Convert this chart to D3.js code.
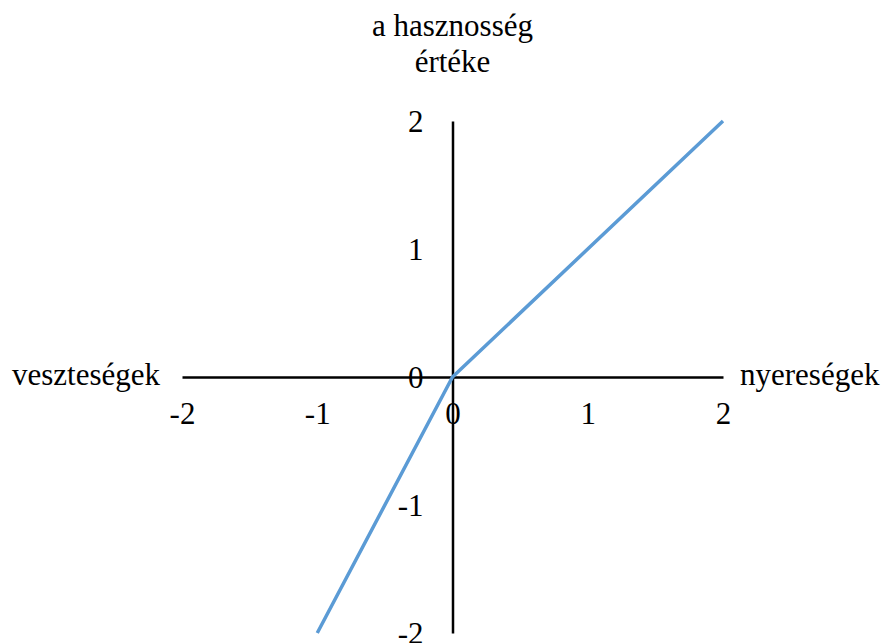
<!DOCTYPE html>
<html>
<head>
<meta charset="utf-8">
<script src="https://cdn.jsdelivr.net/npm/d3@7"></script>
<style>
	body { margin: 0; background: #fff; }
	svg text { font-family: 'Times New Roman', Times, 'Liberation Serif', 'DejaVu Serif', serif; font-size: 31px; fill: #000; }
</style>
</head>
<body>
<div id="chart"></div>
<script>
const gains = [-1, 0, 2]; // x values of the value function
const values = [-2, 0, 2]; // y values
const xTicks = [-2, -1, 0, 1, 2];
const yTicks = [-2, -1, 0, 1, 2];
const titleLines = ['a hasznosség', 'értéke'];
const leftLabel = 'veszteségek';
const rightLabel = 'nyereségek';

const width = 886;
const height = 643;
const serif = "'Times New Roman', Times, 'Liberation Serif', 'DejaVu Serif', serif";

const svg = d3
	.select('#chart')
	.append('svg')
	.attr('width', width)
	.attr('height', height)
	.attr('font-family', serif)
	.attr('font-size', 31);

const x = d3.scaleLinear().domain([-2, 2]).range([182, 723]);
const y = d3.scaleLinear().domain([-2, 2]).range([633, 121]);

// x axis
const xAxis = svg
	.append('g')
	.attr('transform', `translate(0,${y(0)})`)
	.call(d3.axisBottom(x).tickValues(xTicks).tickSize(0));
xAxis.attr('font-family', serif).attr('font-size', 31);
xAxis.select('.domain').attr('stroke', '#000').attr('stroke-width', 2.5);
xAxis
	.selectAll('text')
	.attr('y', 37)
	.attr('dy', '0.33em')
	.attr('fill', '#000')
	.text((d) => String(d));

// y axis
const yAxis = svg
	.append('g')
	.attr('transform', `translate(${x(0)},0)`)
	.call(d3.axisLeft(y).tickValues(yTicks).tickSize(0));
yAxis.attr('font-family', serif).attr('font-size', 31);
yAxis.select('.domain').attr('stroke', '#000').attr('stroke-width', 2.5);
yAxis
	.selectAll('text')
	.attr('x', -29)
	.attr('dy', '0.33em')
	.attr('fill', '#000')
	.text((d) => String(d));

// utility line
const line = d3
	.line()
	.x((d, i) => x(gains[i]))
	.y((d) => y(d));

svg
	.append('path')
	.datum(values)
	.attr('d', line)
	.attr('fill', 'none')
	.attr('stroke', '#5b9bd5')
	.attr('stroke-width', 3.5)
	.attr('stroke-linejoin', 'round');

// labels
svg
	.selectAll('.title')
	.data(titleLines)
	.join('text')
	.attr('class', 'title')
	.attr('text-anchor', 'middle')
	.attr('x', x(0))
	.attr('y', (d, i) => 36 + i * 36)
	.text((d) => d);

svg
	.append('text')
	.attr('text-anchor', 'end')
	.attr('x', 160)
	.attr('y', y(0))
	.attr('dy', '0.27em')
	.text(leftLabel);

svg
	.append('text')
	.attr('x', 740)
	.attr('y', y(0))
	.attr('dy', '0.27em')
	.text(rightLabel);
</script>
</body>
</html>
